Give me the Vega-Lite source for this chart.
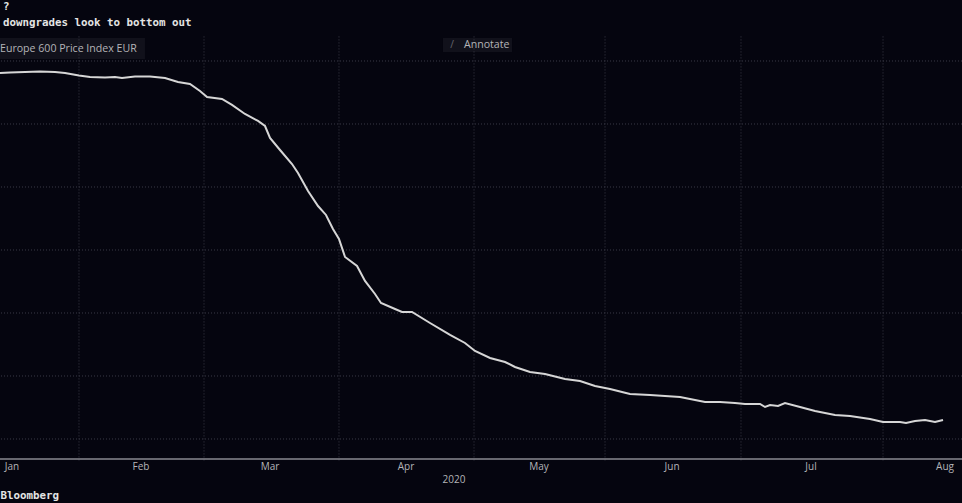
{"$schema":"https://vega.github.io/schema/vega-lite/v6.json","width":962,"height":503,"autosize":{"type":"none"},"padding":0,"background":"#05050f","view":{"stroke":null},
"datasets":{
"series":[{"session":0,"value":58.1},{"session":1.62,"value":58.17},{"session":4.05,"value":58.25},{"session":6.47,"value":58.33},{"session":8.9,"value":58.25},{"session":10.52,"value":58.1},{"session":12.78,"value":57.7},{"session":14.56,"value":57.46},{"session":16.99,"value":57.38},{"session":18.61,"value":57.46},{"session":19.74,"value":57.3},{"session":21.84,"value":57.54},{"session":24.27,"value":57.54},{"session":26.7,"value":57.3},{"session":28.8,"value":56.67},{"session":30.74,"value":56.35},{"session":32.36,"value":55.24},{"session":33.5,"value":54.29},{"session":35.92,"value":53.97},{"session":37.54,"value":53.02},{"session":39.64,"value":51.59},{"session":41.75,"value":50.48},{"session":42.88,"value":49.68},{"session":43.69,"value":47.78},{"session":45.31,"value":45.87},{"session":47.25,"value":43.65},{"session":48.22,"value":42.22},{"session":49.84,"value":39.37},{"session":51.46,"value":36.98},{"session":52.75,"value":35.56},{"session":53.88,"value":33.33},{"session":54.85,"value":31.75},{"session":55.83,"value":28.89},{"session":57.77,"value":27.46},{"session":59.06,"value":25.08},{"session":60.68,"value":23.02},{"session":61.65,"value":21.59},{"session":63.92,"value":20.63},{"session":65.05,"value":20.16},{"session":66.67,"value":20.16},{"session":69.58,"value":18.41},{"session":72.82,"value":16.51},{"session":75.24,"value":15.24},{"session":76.86,"value":13.97},{"session":79.29,"value":12.86},{"session":81.72,"value":12.22},{"session":83.33,"value":11.43},{"session":85.76,"value":10.63},{"session":88.19,"value":10.32},{"session":91.42,"value":9.52},{"session":93.85,"value":9.21},{"session":96.28,"value":8.41},{"session":98.71,"value":7.94},{"session":101.94,"value":7.14},{"session":105.18,"value":6.98},{"session":110.03,"value":6.67},{"session":111.65,"value":6.35},{"session":114.08,"value":5.87},{"session":116.5,"value":5.87},{"session":118.93,"value":5.71},{"session":120.55,"value":5.56},{"session":122.98,"value":5.56},{"session":123.79,"value":5.08},{"session":124.6,"value":5.4},{"session":125.89,"value":5.24},{"session":127.02,"value":5.71},{"session":129.45,"value":5.08},{"session":131.88,"value":4.44},{"session":135.11,"value":3.81},{"session":137.54,"value":3.65},{"session":140.78,"value":3.17},{"session":142.88,"value":2.7},{"session":145.63,"value":2.7},{"session":146.6,"value":2.54},{"session":148.06,"value":2.86},{"session":149.68,"value":3.02},{"session":151.29,"value":2.7},{"session":152.59,"value":3.02}],
"months":[{"session":12.78,"low":-3.4,"top":64.1},{"session":33.01,"low":-3.4,"top":64.1},{"session":54.85,"low":-3.4,"top":64.1},{"session":76.7,"low":-3.4,"top":64.1},{"session":97.9,"low":-3.4,"top":64.1},{"session":119.9,"low":-3.4,"top":64.1},{"session":142.88,"low":-3.4,"top":64.1}],
"levels":[{"level":0},{"level":10},{"level":20},{"level":30},{"level":40},{"level":50},{"level":60}],
"monthLabels":[{"session":1.94,"val":-4.5,"label":"Jan"},{"session":22.82,"val":-4.5,"label":"Feb"},{"session":43.69,"val":-4.5,"label":"Mar"},{"session":65.7,"val":-4.5,"label":"Apr"},{"session":87.22,"val":-4.5,"label":"May"},{"session":108.74,"val":-4.5,"label":"Jun"},{"session":131.23,"val":-4.5,"label":"Jul"},{"session":152.91,"val":-4.5,"label":"Aug"},{"session":73.46,"val":-6.55,"label":"2020"}],
"boxes":[{"from":0,"to":23.46,"low":60.3,"high":63.65},{"from":71.68,"to":82.85,"low":61.43,"high":63.65}],
"heads":[{"session":0.49,"val":66.05,"label":"downgrades look to bottom out"},{"session":0.49,"val":68.6,"label":"?"},{"session":0.1,"val":-9.05,"label":"Bloomberg"}],
"notes":[{"session":0,"val":61.95,"label":"Europe 600 Price Index EUR"},{"session":75.08,"val":62.55,"label":"Annotate"}],
"icon":[{"session":73.14,"val":62.55,"label":"/"}]
},
"layer":[
{"data":{"name":"boxes"},"mark":{"type":"rect","fill":"#11111b"},"encoding":{"x":{"field":"from","type":"quantitative","axis":null,"scale":{"domain":[0,155.66],"nice":false,"zero":false}},"x2":{"field":"to"},"y":{"field":"low","type":"quantitative","axis":null,"scale":{"domain":[-10.16,69.68],"nice":false,"zero":false}},"y2":{"field":"high"}}},
{"data":{"name":"levels"},"mark":{"type":"rule","color":"#3a3a46","strokeDash":[1,2],"strokeWidth":1},"encoding":{"y":{"field":"level","type":"quantitative"}}},
{"data":{"name":"months"},"mark":{"type":"rule","color":"#3a3a46","strokeDash":[1,2],"strokeWidth":1},"encoding":{"x":{"field":"session","type":"quantitative"},"y":{"field":"low","type":"quantitative"},"y2":{"field":"top"}}},
{"data":{"values":[{"level":-3.17}]},"mark":{"type":"rule","color":"#8a8a92","strokeWidth":1.6},"encoding":{"y":{"field":"level","type":"quantitative"}}},
{"data":{"name":"series"},"mark":{"type":"line","color":"#d6d6d6","strokeWidth":2,"interpolate":"linear"},"encoding":{"x":{"field":"session","type":"quantitative"},"y":{"field":"value","type":"quantitative"}}},
{"data":{"name":"monthLabels"},"mark":{"type":"text","color":"#b4b4b8","font":"Open Sans","fontSize":10,"align":"center","baseline":"middle"},"encoding":{"x":{"field":"session","type":"quantitative"},"y":{"field":"val","type":"quantitative"},"text":{"field":"label"}}},
{"data":{"name":"heads"},"mark":{"type":"text","color":"#e4e4e4","font":"DejaVu Sans Mono","fontWeight":"bold","fontSize":10.8,"align":"left","baseline":"middle"},"encoding":{"x":{"field":"session","type":"quantitative"},"y":{"field":"val","type":"quantitative"},"text":{"field":"label"}}},
{"data":{"name":"notes"},"mark":{"type":"text","color":"#b4b4b8","font":"Open Sans","fontSize":10.6,"align":"left","baseline":"middle"},"encoding":{"x":{"field":"session","type":"quantitative"},"y":{"field":"val","type":"quantitative"},"text":{"field":"label"}}},
{"data":{"name":"icon"},"mark":{"type":"text","color":"#6a6a72","font":"Open Sans","fontSize":10,"align":"center","baseline":"middle"},"encoding":{"x":{"field":"session","type":"quantitative"},"y":{"field":"val","type":"quantitative"},"text":{"field":"label"}}}
]}
